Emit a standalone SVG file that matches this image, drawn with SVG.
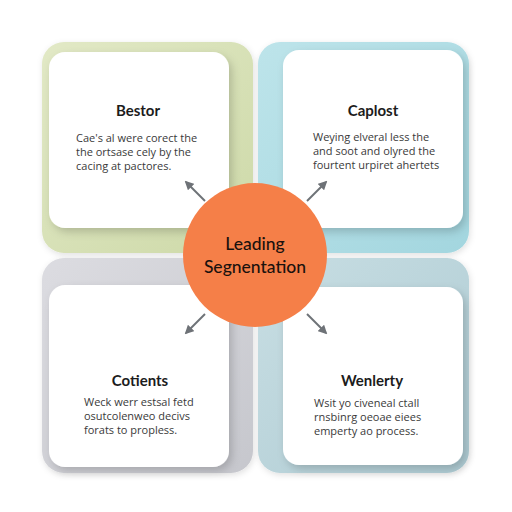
<svg xmlns="http://www.w3.org/2000/svg" width="512" height="512" viewBox="0 0 512 512">
<defs>
<filter id="sh" x="-20%" y="-20%" width="140%" height="140%">
<feDropShadow dx="3" dy="4" stdDeviation="4" flood-color="#000" flood-opacity="0.18"/>
</filter>
<filter id="sh2" x="-20%" y="-20%" width="140%" height="140%">
<feDropShadow dx="1" dy="2" stdDeviation="3" flood-color="#000" flood-opacity="0.12"/>
</filter>
<marker id="ah" viewBox="0 0 10 10" refX="8" refY="5" markerWidth="4.5" markerHeight="4.5" orient="auto">
<path d="M0,0 L10,5 L0,10 Z" fill="#6e7277"/>
</marker>
<linearGradient id="gGreen" x1="0" y1="0" x2="1" y2="1"><stop offset="0" stop-color="#e2e9c6"/><stop offset="1" stop-color="#cdd9a8"/></linearGradient>
<linearGradient id="gBlue" x1="0" y1="0" x2="1" y2="1"><stop offset="0" stop-color="#bde4ea"/><stop offset="1" stop-color="#a3d6df"/></linearGradient>
<linearGradient id="gGray" x1="0" y1="0" x2="1" y2="1"><stop offset="0" stop-color="#dcdce1"/><stop offset="1" stop-color="#c6c7cd"/></linearGradient>
<linearGradient id="gSlate" x1="0" y1="0" x2="1" y2="1"><stop offset="0" stop-color="#c8dee3"/><stop offset="1" stop-color="#aecbd3"/></linearGradient>
</defs>
<style>
.card{fill:#ffffff;filter:url(#sh)}
.title{font-family:Lato,"Liberation Sans",sans-serif;font-size:15px;font-weight:bold;fill:#1c1c1c;text-anchor:middle}
.body{font-family:"Open Sans","Liberation Sans",sans-serif;font-size:11px;fill:#3a3a3a}
.center{font-family:Lato,"Liberation Sans",sans-serif;font-size:17.5px;font-weight:500;fill:#1a120e;text-anchor:middle}
.conn{stroke:#6e7277;stroke-width:2;fill:none;marker-end:url(#ah)}
</style>
<rect width="512" height="512" fill="#ffffff"/>
<g id="node-bestor">
<rect x="42" y="42" width="211" height="211" rx="22" fill="url(#gGreen)" filter="url(#sh2)"/>
<rect class="card" x="49" y="52" width="180" height="176" rx="16"/>
<text class="title" x="138" y="116">Bestor</text>
<text class="body" x="76" y="142">Cae's al were corect the</text>
<text class="body" x="76" y="156">the ortsase cely by the</text>
<text class="body" x="76" y="170">cacing at pactores.</text>
</g>
<g id="node-caplost">
<rect x="258" y="42" width="211" height="211" rx="22" fill="url(#gBlue)" filter="url(#sh2)"/>
<rect class="card" x="283" y="50" width="180" height="178" rx="16"/>
<text class="title" x="373" y="116">Caplost</text>
<text class="body" x="313" y="141">Weying elveral less the</text>
<text class="body" x="313" y="155">and soot and olyred the</text>
<text class="body" x="313" y="169">fourtent urpiret ahertets</text>
</g>
<g id="node-cotients">
<rect x="42" y="258" width="211" height="215" rx="22" fill="url(#gGray)" filter="url(#sh2)"/>
<rect class="card" x="49" y="285" width="180" height="182" rx="16"/>
<text class="title" x="140" y="386">Cotients</text>
<text class="body" x="84" y="406">Weck werr estsal fetd</text>
<text class="body" x="84" y="420">osutcolenweo decivs</text>
<text class="body" x="84" y="434">forats to propless.</text>
</g>
<g id="node-wenlerty">
<rect x="258" y="258" width="211" height="215" rx="22" fill="url(#gSlate)" filter="url(#sh2)"/>
<rect class="card" x="283" y="287" width="180" height="178" rx="16"/>
<text class="title" x="372" y="386">Wenlerty</text>
<text class="body" x="314" y="407">Wsit yo civeneal ctall</text>
<text class="body" x="314" y="421">rnsbinrg oeoae eiees</text>
<text class="body" x="314" y="435">emperty ao process.</text>
</g>
<g id="connectors">
<line class="conn" x1="205" y1="201" x2="186" y2="182"/>
<line class="conn" x1="307" y1="201" x2="326" y2="182"/>
<line class="conn" x1="205" y1="314" x2="186" y2="333"/>
<line class="conn" x1="307" y1="314" x2="326" y2="333"/>
</g>
<g id="node-center">
<circle cx="255" cy="255" r="72" fill="#f57f48"/>
<text class="center" x="255" y="250">Leading</text>
<text class="center" x="255" y="273">Segnentation</text>
</g>
</svg>
